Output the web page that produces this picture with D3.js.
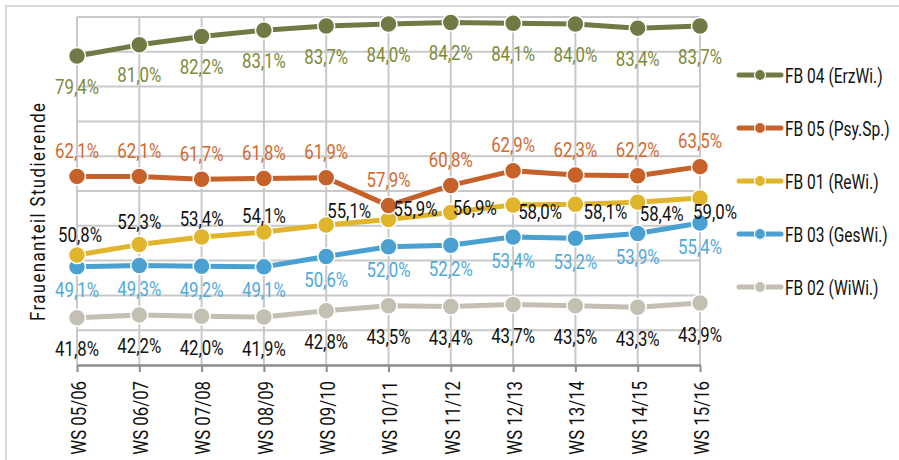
<!DOCTYPE html>
<html>
<head>
<meta charset="utf-8">
<script src="https://cdn.jsdelivr.net/npm/d3@7"></script>
<style>
  html, body { margin: 0; padding: 0; background: #fff; }
  svg { display: block; }
  text { font-family: Roboto, "Noto Sans", sans-serif; }
</style>
</head>
<body>
<svg id="chart" width="899" height="460"></svg>
<script>
const categories = ["WS 05/06","WS 06/07","WS 07/08","WS 08/09","WS 09/10","WS 10/11","WS 11/12","WS 12/13","WS 13/14","WS 14/15","WS 15/16"];
const fb04 = [79.4, 81.0, 82.2, 83.1, 83.7, 84.0, 84.2, 84.1, 84.0, 83.4, 83.7];
const fb05 = [62.1, 62.1, 61.7, 61.8, 61.9, 57.9, 60.8, 62.9, 62.3, 62.2, 63.5];
const fb01 = [50.8, 52.3, 53.4, 54.1, 55.1, 55.9, 56.9, 58.0, 58.1, 58.4, 59.0];
const fb03 = [49.1, 49.3, 49.2, 49.1, 50.6, 52.0, 52.2, 53.4, 53.2, 53.9, 55.4];
const fb02 = [41.8, 42.2, 42.0, 41.9, 42.8, 43.5, 43.4, 43.7, 43.5, 43.3, 43.9];
const seriesNames = ["FB 04 (ErzWi.)", "FB 05 (Psy.Sp.)", "FB 01 (ReWi.)", "FB 03 (GesWi.)", "FB 02 (WiWi.)"];
const yTicks = [35, 40, 45, 50, 55, 60, 65, 70, 75, 80, 85];
const yTitle = "Frauenanteil Studierende";

// layout / style (not data)
const colors = ["#6f7a45", "#c6612a", "#e0b52c", "#4aa0d1", "#c3bfb3"];
const labelColors = ["#7d8a3a", "#d06a30", "#111111", "#4fa9dc", "#111111"];
const labelDy = [30, -26, null, 23, 31];
const fb01LabelDx = [3, 0, 0, 0, 23, 27, 24, 27, 30, 24, 15];
const fb01LabelDy = [-21, -23, -19, -17, -15, -11, -5, 7, 7, 11, 13];
const FS = 21, SX = 0.8;

const seriesValues = [fb04, fb05, fb01, fb03, fb02];

const svg = d3.select("#chart");
const x = d3.scalePoint().domain(categories).range([77, 700]);
const y = d3.scaleLinear().domain([35, 85]).range([365, 17]);

// outer border
svg.append("rect").attr("x", 6).attr("y", 6).attr("width", 920).attr("height", 480)
  .attr("fill", "none").attr("stroke", "#d9d9d9").attr("stroke-width", 2);

// horizontal gridlines
svg.append("g").selectAll("line").data(yTicks.filter(t => t > 35)).join("line")
  .attr("x1", x.range()[0]).attr("x2", x.range()[1])
  .attr("y1", d => y(d)).attr("y2", d => y(d))
  .attr("stroke", "#c9c9c9").attr("stroke-width", 2);

// vertical gridlines
svg.append("g").selectAll("line").data(categories).join("line")
  .attr("x1", d => x(d)).attr("x2", d => x(d))
  .attr("y1", y(85)).attr("y2", y(35))
  .attr("stroke", "#c9c9c9").attr("stroke-width", 2);

// x axis
const xAxis = svg.append("g").attr("transform", `translate(0,${y(35)})`)
  .call(d3.axisBottom(x).tickSize(7).tickSizeOuter(0));
xAxis.attr("font-family", null).attr("font-size", null);
xAxis.select(".domain").attr("stroke", "#8c8c8c").attr("stroke-width", 2.5);
xAxis.selectAll(".tick line").attr("stroke", "#8c8c8c").attr("stroke-width", 2);
xAxis.selectAll(".tick text")
  .attr("transform", `rotate(-90) scale(${SX},1)`)
  .attr("text-anchor", "end")
  .attr("x", -16 / SX).attr("y", 1).attr("dy", "0.35em")
  .attr("font-size", FS).attr("fill", "#111");

// y title
svg.append("text")
  .attr("transform", `translate(38,212) rotate(-90) scale(${SX},1)`)
  .attr("text-anchor", "middle")
  .attr("dy", "0.35em")
  .attr("font-size", FS).attr("fill", "#111")
  .attr("textLength", 218 / SX).attr("lengthAdjust", "spacing")
  .text(yTitle);

// lines and markers
const line = d3.line().x((d, i) => x(categories[i])).y(d => y(d));
for (let s = seriesValues.length - 1; s >= 0; s--) {
  const vals = seriesValues[s];
  const g = svg.append("g");
  g.append("path").datum(vals).attr("d", line)
    .attr("fill", "none").attr("stroke", colors[s]).attr("stroke-width", 5)
    .attr("stroke-linejoin", "round");
  g.selectAll("circle").data(vals).join("circle")
    .attr("cx", (d, i) => x(categories[i])).attr("cy", d => y(d)).attr("r", 8.5)
    .attr("fill", colors[s]).attr("stroke", "#fff").attr("stroke-width", 1.5);
}

// labels
const fmt = v => d3.format(".1f")(v).replace(".", ",") + "%";
seriesValues.forEach((vals, s) => {
  svg.append("g").selectAll("text").data(vals).join("text")
    .attr("transform", (d, i) => {
      const lx = x(categories[i]) + (s === 2 ? fb01LabelDx[i] : 0);
      const ly = y(d) + (s === 2 ? fb01LabelDy[i] : labelDy[s]);
      return `translate(${lx},${ly}) scale(${SX},1)`;
    })
    .attr("dy", "0.36em")
    .attr("text-anchor", "middle")
    .attr("font-size", FS).attr("fill", labelColors[s])
    .text(d => fmt(d));
});

// legend
const leg = svg.append("g");
seriesNames.forEach((name, s) => {
  const ly = 75 + s * 53;
  leg.append("line").attr("x1", 739).attr("x2", 781).attr("y1", ly).attr("y2", ly)
    .attr("stroke", colors[s]).attr("stroke-width", 5).attr("stroke-linecap", "round");
  leg.append("circle").attr("cx", 760).attr("cy", ly).attr("r", 5.5)
    .attr("fill", colors[s]).attr("stroke", "#fff").attr("stroke-width", 1.2);
  leg.append("text").attr("transform", `translate(785,${ly}) scale(0.74,1)`)
    .attr("dy", "0.36em")
    .attr("font-size", FS).attr("fill", "#111").text(name);
});
</script>
</body>
</html>
